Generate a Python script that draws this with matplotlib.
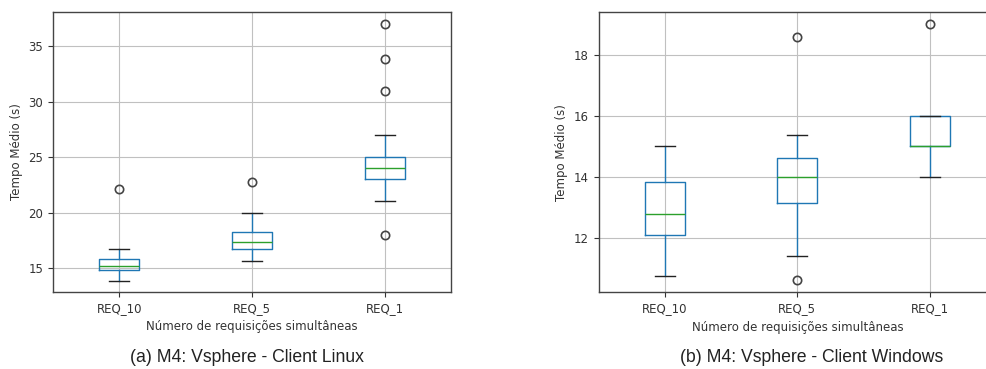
import matplotlib
matplotlib.use("Agg")
import matplotlib.pyplot as plt

# Categories (simultaneous requests)
labels = ["REQ_10", "REQ_5", "REQ_1"]

# Client Linux: box-plot statistics of mean response time (s)
linux_whislo = [13.85, 15.6, 21.0]
linux_q1 = [14.82, 16.7, 23.0]
linux_med = [15.15, 17.3, 24.0]
linux_q3 = [15.85, 18.2, 25.0]
linux_whishi = [16.75, 20.0, 27.0]
linux_fliers = [[22.1], [22.8], [18.0, 31.0, 33.9, 37.0]]

# Client Windows: box-plot statistics of mean response time (s)
win_whislo = [10.72, 11.4, 14.0]
win_q1 = [12.08, 13.14, 15.0]
win_med = [12.76, 14.0, 15.0]
win_q3 = [13.83, 14.6, 16.0]
win_whishi = [15.0, 15.37, 16.0]
win_fliers = [[], [10.59, 18.6], [19.0]]

captions = ["(a) M4: Vsphere - Client Linux", "(b) M4: Vsphere - Client Windows"]
xlabel = "Número de requisições simultâneas"
ylabel = "Tempo Médio (s)"


def build_stats(lo, q1, med, q3, hi, fliers):
    return [
        dict(label=lab, whislo=a, q1=b, med=c, q3=d, whishi=e, fliers=f)
        for lab, a, b, c, d, e, f in zip(labels, lo, q1, med, q3, hi, fliers)
    ]


def draw_panel(ax, stats, ylim, yticks):
    ax.bxp(
        stats,
        positions=[1, 2, 3],
        widths=0.3,
        boxprops=dict(color="#1f77b4", linewidth=1.0),
        whiskerprops=dict(color="#1f77b4", linewidth=1.0),
        medianprops=dict(color="#2ca02c", linewidth=1.0),
        capprops=dict(color="#222222", linewidth=1.0),
        flierprops=dict(marker="o", markerfacecolor="none",
                        markeredgecolor="#444444", markersize=6, markeredgewidth=1.2),
    )
    ax.set_xlim(0.5, 3.5)
    ax.set_ylim(*ylim)
    ax.set_yticks(yticks)
    ax.grid(True, color="#c0c0c0", linewidth=0.8)
    ax.set_axisbelow(True)
    for s in ax.spines.values():
        s.set_color("#444444")
        s.set_linewidth(1.0)
    ax.tick_params(labelsize=8.5, colors="#333333", length=3.5, width=0.8)
    ax.set_xlabel(xlabel, fontsize=8.5, color="#333333", labelpad=4)
    ax.set_ylabel(ylabel, fontsize=8.5, color="#333333", labelpad=4)


fig = plt.figure(figsize=(9.87, 3.69), dpi=100)

ax1 = fig.add_axes([53 / 987, 77 / 369, 398 / 987, 280 / 369])
draw_panel(ax1,
           build_stats(linux_whislo, linux_q1, linux_med, linux_q3, linux_whishi, linux_fliers),
           (12.83, 38.1), [15, 20, 25, 30, 35])

ax2 = fig.add_axes([598.7 / 987, 76.7 / 369, 397.3 / 987, 280.3 / 369])
draw_panel(ax2,
           build_stats(win_whislo, win_q1, win_med, win_q3, win_whishi, win_fliers),
           (10.2, 19.41), [12, 14, 16, 18])

fig.text(247 / 987, 1 - 357 / 369, captions[0], ha="center", va="center",
         fontsize=12.7, family="Liberation Sans", color="#222222")
fig.text(812 / 987, 1 - 357 / 369, captions[1], ha="center", va="center",
         fontsize=12.7, family="Liberation Sans", color="#222222")

fig.savefig("out.png", dpi=100, facecolor="white")
